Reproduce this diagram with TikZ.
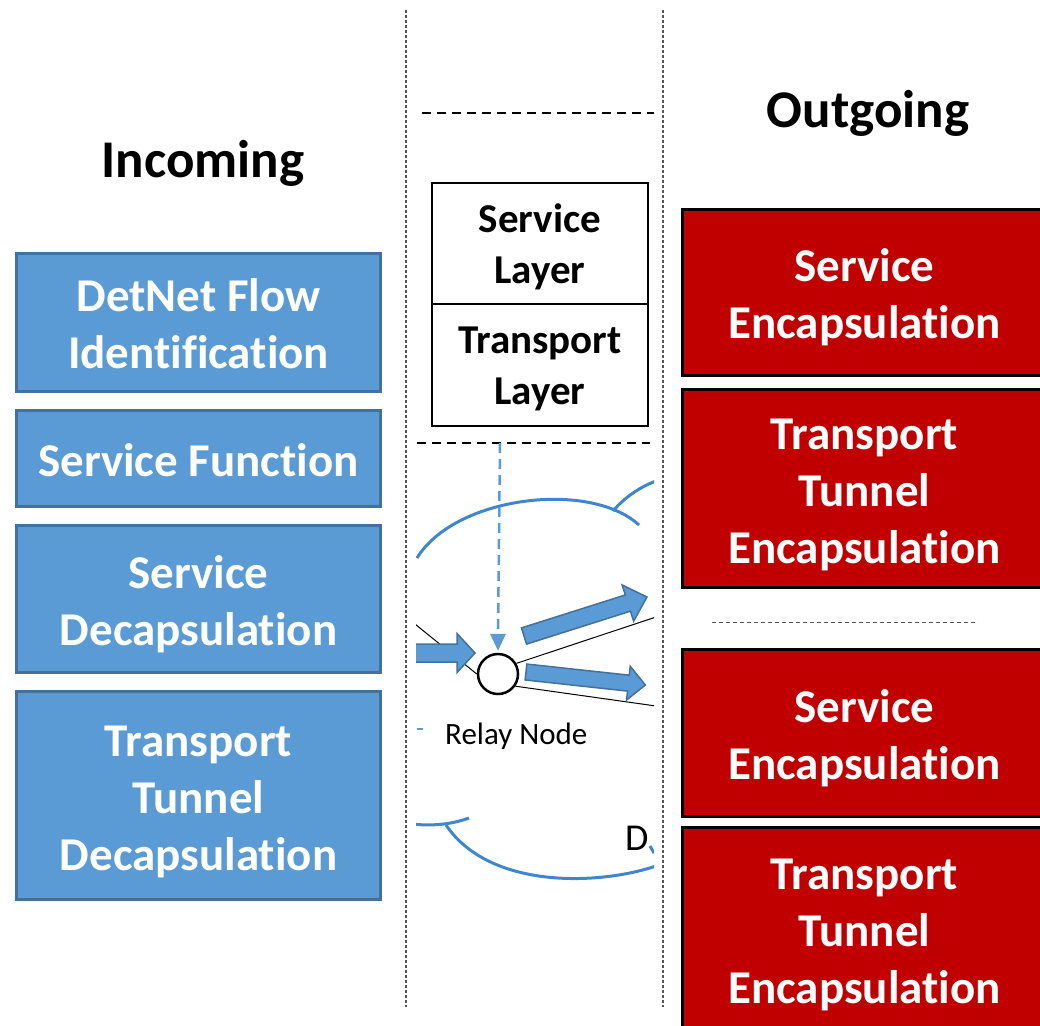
\documentclass[tikz,border=0pt]{standalone}
\usepackage{fontspec}
\setmainfont{Carlito}[Ligatures=NoCommon]
\usetikzlibrary{calc}
\definecolor{boxblue}{HTML}{5B9BD5}
\definecolor{edgeblue}{HTML}{41719C}
\definecolor{boxred}{HTML}{C00000}
\definecolor{cloudblue}{HTML}{3F86D1}
\definecolor{railgray}{HTML}{555555}
% line struts that fix where each text line sits inside its box
\newcommand{\boxln}{\rule[-11pt]{0pt}{57pt}}
\newcommand{\layerln}{\rule[-11.5pt]{0pt}{51pt}}
% keeps t and i as two separate letters
\newcommand{\nolig}{\kern0pt{}}
\tikzset{
  bluebox/.style={draw=edgeblue, line width=3pt, fill=boxblue, text=white,
    font=\bfseries\fontsize{47}{57}\selectfont, align=center, inner sep=0pt,
    minimum width=364pt},
  redbox/.style={draw=black, line width=3pt, fill=boxred, text=white,
    font=\bfseries\fontsize{47}{57}\selectfont, align=center, inner sep=0pt,
    minimum width=364pt},
  layerbox/.style={draw, line width=2.5pt, fill=white,
    font=\bfseries\fontsize{41}{51}\selectfont, align=center, inner sep=0pt,
    minimum width=216pt},
  heading/.style={font=\bfseries\fontsize{53}{60}\selectfont, inner sep=0pt},
  rail/.style={draw=railgray, line width=1.2pt, dash pattern=on 3pt off 2pt},
  sepline/.style={draw=black, line width=2pt, dash pattern=on 9pt off 6pt},
  thinsep/.style={draw=railgray, line width=1pt, dash pattern=on 4pt off 3pt},
  cloud/.style={draw=cloudblue, line width=3pt},
  blockarrow/.style={draw=edgeblue, line width=1.5pt, fill=boxblue},
  link/.style={draw=black, line width=1pt},
}
% block arrow along +x from the scope origin: length, shaft half width, head length, head half width
\newcommand{\blockarrowpath}[4]{%
  (0,-#2) -- ({#1-#3},-#2) -- ({#1-#3},-#4) -- (#1,0) -- ({#1-#3},#4) -- ({#1-#3},#2) -- (0,#2) -- cycle}
\begin{document}
\begin{tikzpicture}[x=1pt, y=-1pt]
\useasboundingbox (0,0) rectangle (1040,1025);
\clip (0,0) rectangle (1040,1025);

% column rails
\coordinate (railLtop) at (406,10);
\coordinate (railLbot) at (406,1007);
\coordinate (railRtop) at (663,10);
\coordinate (railRbot) at (663,1007);
\draw[rail] (railLtop) -- (railLbot);
\draw[rail] (railRtop) -- (railRbot);

% headings
\node[heading, anchor=base] (incoming) at (203,177) {Incoming};
\node[heading, anchor=base] (outgoing) at (868,127) {Outgoing};

% incoming processing stack
\node[bluebox, minimum height=138pt] (b1) at (198.5,322.5) {\boxln DetNet Flow\\\boxln Ident\nolig ificat\nolig ion};
\node[bluebox, minimum height=96pt]  (b2) at (198.5,458.5) {\boxln Service Function};
\node[bluebox, minimum height=147pt] (b3) at (198.5,599) {\boxln Service\\\boxln Decapsulat\nolig ion};
\node[bluebox, minimum height=208pt] (b4) at (198.5,795.5) {\boxln Transport\\\boxln Tunnel\\\boxln Decapsulat\nolig ion};

% outgoing processing stacks
\node[redbox, minimum height=166pt] (r1) at (864.5,292.5) {\boxln Service\\\boxln Encapsulat\nolig ion};
\node[redbox, minimum height=198pt] (r2) at (864.5,488.5) {\boxln Transport\\\boxln Tunnel\\\boxln Encapsulat\nolig ion};
\node[redbox, minimum height=167pt] (r3) at (864.5,733) {\boxln Service\\\boxln Encapsulat\nolig ion};
\node[redbox, minimum height=203pt] (r4) at (864.5,929) {\boxln Transport\\\boxln Tunnel\\\boxln Encapsulat\nolig ion};
\coordinate (sepA) at (712,622);
\coordinate (sepB) at (978,622);
\draw[thinsep] (sepA) -- (sepB);

% layer model
\coordinate (topA) at (422,113);
\coordinate (topB) at (654,113);
\draw[sepline] (topA) -- (topB);
\node[layerbox, minimum height=121pt] (sl) at (540,243.5) {\layerln Service\\\layerln Layer};
\node[layerbox, minimum height=122pt] (tl) at (540,365) {\layerln Transport\\\layerln Layer};
\coordinate (midA) at (417,443);
\coordinate (midB) at (650,443);
\draw[sepline] (midA) -- (midB);

% relay node and its links
\begin{scope}
\clip (416,440) rectangle (654,1025);
\draw[cloud] (417,558) .. controls (455,496) and (590,480) .. (639,525);
\draw[cloud] (613,511) .. controls (625,497) and (640,487) .. (656,481);
\draw[cloud] (412,824) .. controls (430,826) and (450,825) .. (469,818);
\draw[cloud] (446,825) .. controls (490,890) and (600,885) .. (656,866);
\draw[cloud] (650,846) -- (654,853);

\node[circle, draw, line width=2.5pt, minimum size=40pt, inner sep=0pt, fill=white] (relay) at (498,674) {};
\coordinate (inlink) at (410,620);
\coordinate (uplink) at (656,617);
\coordinate (downlink) at (656,706);
\draw[link] (inlink) -- (relay.west);
\draw[link] (relay.30) -- (uplink);
\draw[link] (relay.-35) -- (downlink);

\begin{scope}[shift={(410,653)}]
\draw[blockarrow] \blockarrowpath{65}{9}{18}{19.5};
\end{scope}
\begin{scope}[shift={(524,636)}, rotate=17.6]
\draw[blockarrow] \blockarrowpath{129}{8.5}{20}{19};
\end{scope}
\begin{scope}[shift={(526,672)}, rotate=-6.2]
\draw[blockarrow] \blockarrowpath{120}{8}{17}{17};
\end{scope}

\coordinate (down) at (500,443);
\draw[draw=boxblue, line width=2.5pt, dash pattern=on 10pt off 6pt] (down) -- ($(relay.north)+(0,-17)$);
\fill[boxblue] ($(relay.north)+(0,-2)$) -- ++(-8,-17) -- ++(16,0) -- cycle;

\draw[draw=boxblue, line width=2pt] (417,729) -- (423,729);
\node[anchor=base west, font=\fontsize{31}{36}\selectfont, inner sep=0pt] (relaylabel) at (445,744) {Relay Node};
\node[anchor=base west, font=\fontsize{38}{44}\selectfont, inner sep=0pt] (dlabel) at (625,850) {D};
\end{scope}
\end{tikzpicture}
\end{document}
